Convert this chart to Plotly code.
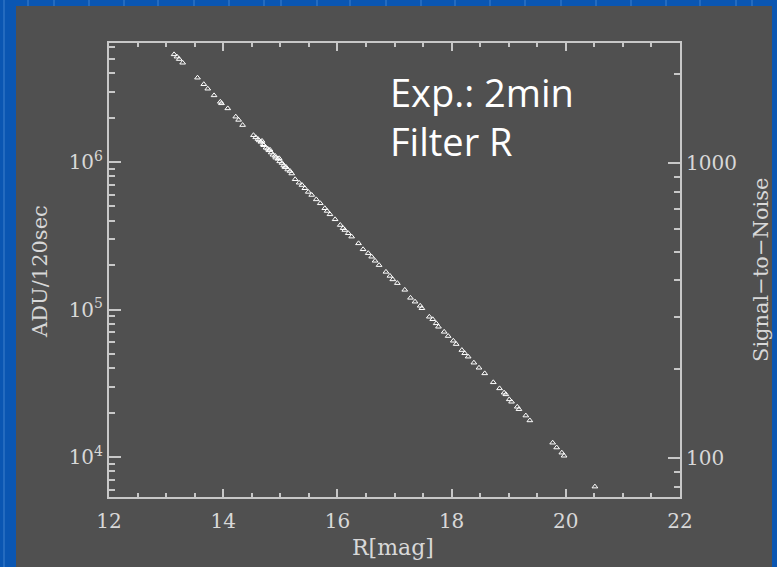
import plotly.graph_objects as go

# R magnitude of each star
mag = [13.14, 13.19, 13.23, 13.29, 13.55, 13.66, 13.73, 13.84, 13.95, 13.97,
       14.08, 14.22, 14.27, 14.34, 14.53,
       14.57, 14.61, 14.63, 14.66, 14.68, 14.70, 14.71, 14.75, 14.78, 14.80,
       14.82, 14.84, 14.87, 14.91, 14.92, 14.96, 14.98, 14.99, 15.03, 15.06,
       15.08, 15.10, 15.13, 15.17, 15.20,
       15.26, 15.33, 15.38, 15.43, 15.49, 15.55, 15.63, 15.70, 15.78, 15.82,
       15.87, 15.96, 16.05, 16.10,
       16.13, 16.19, 16.25, 16.37, 16.45, 16.54, 16.60, 16.66, 16.73, 16.85,
       16.92, 16.97, 17.05, 17.18, 17.28, 17.36, 17.45,
       17.48, 17.61, 17.67, 17.73, 17.77, 17.87, 17.94, 18.03, 18.08, 18.18,
       18.23, 18.29, 18.39, 18.48, 18.58, 18.73, 18.84,
       18.92, 18.95, 19.01, 19.05, 19.15, 19.18, 19.30, 19.37,
       19.77, 19.84, 19.93, 19.97, 20.51]

# counts in 120 s
adu = [5.37e6, 5.18e6, 4.99e6, 4.71e6, 3.73e6, 3.37e6, 3.14e6, 2.83e6, 2.56e6, 2.50e6,
       2.31e6, 2.03e6, 1.93e6, 1.78e6, 1.52e6,
       1.47e6, 1.43e6, 1.40e6, 1.37e6, 1.39e6, 1.32e6, 1.30e6, 1.25e6, 1.23e6, 1.20e6,
       1.21e6, 1.16e6, 1.12e6, 1.10e6, 1.07e6, 1.05e6, 1.06e6, 1.01e6, 9.84e5, 9.46e5,
       9.25e5, 9.25e5, 8.89e5, 8.69e5, 8.36e5,
       7.64e5, 7.24e5, 6.98e5, 6.64e5, 6.27e5, 5.98e5, 5.58e5, 5.25e5, 4.86e5, 4.66e5,
       4.42e5, 4.09e5, 3.74e5, 3.56e5,
       3.46e5, 3.29e5, 3.12e5, 2.81e5, 2.56e5, 2.41e5, 2.28e5, 2.14e5, 2.00e5, 1.80e5,
       1.69e5, 1.60e5, 1.51e5, 1.36e5, 1.20e5, 1.13e5, 1.06e5,
       1.02e5, 8.93e4, 8.59e4, 8.06e4, 7.64e4, 7.06e4, 6.61e4, 6.14e4, 5.83e4, 5.31e4,
       5.05e4, 4.79e4, 4.36e4, 4.03e4, 3.69e4, 3.21e4, 2.92e4,
       2.73e4, 2.66e4, 2.46e4, 2.37e4, 2.19e4, 2.11e4, 1.91e4, 1.77e4,
       1.25e4, 1.16e4, 1.07e4, 1.02e4, 6.30e3]

x_ticks = [12, 14, 16, 18, 20, 22]
adu_ticks = [1e4, 1e5, 1e6]
adu_labels = ["10<sup>4</sup>", "10<sup>5</sup>", "10<sup>6</sup>"]
adu_minor = [m * 10 ** e for e in (3, 4, 5, 6) for m in range(2, 10)]
sn_ticks = [100, 1000]
sn_labels = ["100", "1000"]
sn_minor = [m * 10 ** e for e in (1, 2, 3) for m in range(2, 10)]

AX = "#c8c8c8"
TXT = "#d8d8d8"
GRAY = "#505050"
BLUE = "#0a56b2"
SERIF = "DejaVu Serif"

fig = go.Figure()
fig.add_trace(go.Scatter(
    x=mag, y=adu, mode="markers",
    marker=dict(symbol="triangle-up-open", size=5, color="white", line=dict(width=1, color="white")),
    showlegend=False, hoverinfo="skip"))
fig.add_trace(go.Scatter(x=[None], y=[None], yaxis="y2", showlegend=False, hoverinfo="skip"))

W, H = 777, 567
L, R, T, B = 109, 97, 43, 70
pw, ph = W - L - R, H - T - B


def px(xp):
    return (xp - L) / pw


def py(yp):
    return 1 - (yp - T) / ph


shapes = [dict(type="rect", xref="paper", yref="paper", x0=px(16), x1=px(772), y0=py(567), y1=py(6),
               fillcolor=GRAY, line=dict(width=0), layer="below")]
for xl in [28, 54, 89, 124, 158, 194, 229, 264, 281, 317, 350, 386, 421, 455, 490, 525,
           561, 596, 631, 666, 700, 736, 752]:
    shapes.append(dict(type="line", xref="paper", yref="paper", x0=px(xl), x1=px(xl), y0=py(0), y1=py(6),
                       line=dict(color="#3f80cc", width=1), layer="below"))
shapes.append(dict(type="line", xref="paper", yref="paper", x0=px(4), x1=px(4), y0=py(0), y1=py(567),
                   line=dict(color="#3f80cc", width=1), layer="below"))

fig.update_layout(
    width=W, height=H,
    margin=dict(l=L, r=R, t=T, b=B),
    paper_bgcolor=BLUE, plot_bgcolor=GRAY,
    shapes=shapes,
    xaxis=dict(range=[12, 22], tickvals=x_ticks, ticks="inside", ticklen=8, tickwidth=1.5,
               tickcolor=AX, showline=True, linecolor=AX, linewidth=2, mirror="ticks",
               showgrid=False, zeroline=False, ticklabelstandoff=5,
               tickfont=dict(family=SERIF, size=20, color=TXT),
               minor=dict(dtick=0.5, ticks="inside", ticklen=4, tickcolor=AX, tickwidth=1.5, showgrid=False)),
    yaxis=dict(type="log", range=[3.729, 6.807], tickvals=adu_ticks, ticktext=adu_labels,
               ticks="inside", ticklen=12, tickwidth=1.5, tickcolor=AX, showline=True, linecolor=AX,
               linewidth=2, showgrid=False, zeroline=False,
               tickfont=dict(family=SERIF, size=20, color=TXT),
               minor=dict(tickmode="array", tickvals=adu_minor, ticks="inside", ticklen=6,
                          tickcolor=AX, tickwidth=1.5, showgrid=False)),
    yaxis2=dict(type="log", range=[1.868, 3.407], overlaying="y", side="right",
                tickvals=sn_ticks, ticktext=sn_labels,
                ticks="inside", ticklen=12, tickwidth=1.5, tickcolor=AX, showline=True, linecolor=AX,
                linewidth=2, showgrid=False, zeroline=False,
                tickfont=dict(family=SERIF, size=20, color=TXT),
                minor=dict(tickmode="array", tickvals=sn_minor, ticks="inside", ticklen=6,
                           tickcolor=AX, tickwidth=1.5, showgrid=False)),
    annotations=[
        dict(text="Exp.: 2min<br>Filter R", xref="paper", yref="paper", x=px(388), y=py(117),
             xanchor="left", yanchor="middle", align="left", showarrow=False,
             font=dict(family="Open Sans", size=38, color="white")),
        dict(text="ADU/120sec", xref="paper", yref="paper", x=px(40), y=py(272), textangle=-90,
             xanchor="center", yanchor="middle",
             showarrow=False, font=dict(family=SERIF, size=21, color=TXT)),
        dict(text="Signal\u2212to\u2212Noise", xref="paper", yref="paper", x=px(761), y=py(270),
             xanchor="center", yanchor="middle",
             textangle=-90, showarrow=False, font=dict(family=SERIF, size=21, color=TXT)),
        dict(text="R[mag]", xref="paper", yref="paper", x=px(393), y=py(547),
             xanchor="center", yanchor="middle",
             showarrow=False, font=dict(family=SERIF, size=22, color=TXT)),
    ],
)

fig.write_html("out.html")
